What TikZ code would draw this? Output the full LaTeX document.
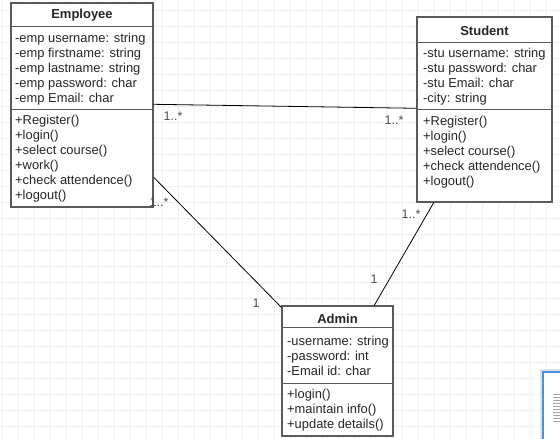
\documentclass[tikz,border=0pt]{standalone}
\usepackage{fontspec}
\setmainfont{Liberation Sans}
\usepackage{xcolor}
\definecolor{gridgray}{RGB}{240,240,240}
\definecolor{boxgray}{RGB}{90,90,90}
\definecolor{navblue}{RGB}{74,144,226}
\tikzset{
  classbox/.style={draw=boxgray, line width=1.4pt, fill=white, inner sep=0pt},
  sepline/.style={draw=boxgray, line width=1.4pt},
  cname/.style={font=\fontsize{13}{15}\selectfont\bfseries, text=black!85, anchor=base, inner sep=0pt},
  member/.style={font=\fontsize{12.9}{15}\selectfont, text=black!85, anchor=base west, inner sep=0pt},
  mult/.style={font=\fontsize{12.5}{14}\selectfont, text=black!70, inner sep=0pt},
  assoc/.style={draw=black, line width=0.8pt},
  gridline/.style={draw=gridgray, line width=0.8pt}
}

\begin{document}
\begin{tikzpicture}[x=1pt, y=-1pt]
\useasboundingbox[fill=white] (0,0) rectangle (560,439);
% background grid
\foreach \gx in {2,18,...,560} \draw[gridline] (\gx,0) -- (\gx,439);
\foreach \gy in {10,26,...,439} \draw[gridline] (0,\gy) -- (560,\gy);

% Employee
\node[classbox, minimum width=142pt, minimum height=204pt] (emp) at (82,105) {};
\draw[sepline] ([yshift=-24pt]emp.north west) -- ([yshift=-24pt]emp.north east);
\draw[sepline] ([yshift=-107pt]emp.north west) -- ([yshift=-107pt]emp.north east);
\node[cname] (empname) at (82,19) {Employee};
\foreach \m [count=\i] in {-emp username: string, -emp firstname: string, -emp lastname: string, -emp password: char, -emp Email: char}
  \node[member] (empa\i) at (15,27.5+15*\i) {\m};
\foreach \m [count=\i] in {+Register(), +login(), +select course(), +work(), +check attendence(), +logout()}
  \node[member] (empm\i) at (15,109+15*\i) {\m};

% Student
\node[classbox, minimum width=135pt, minimum height=185pt] (stu) at (484.5,109.5) {};
\draw[sepline] ([yshift=-26pt]stu.north west) -- ([yshift=-26pt]stu.north east);
\draw[sepline] ([yshift=-93pt]stu.north west) -- ([yshift=-93pt]stu.north east);
\node[cname] (stuname) at (484.5,35) {Student};
\foreach \m [count=\i] in {-stu username: string, -stu password: char, -stu Email: char, -city: string}
  \node[member] (stua\i) at (423,42+15*\i) {\m};
\foreach \m [count=\i] in {+Register(), +login(), +select course(), +check attendence(), +logout()}
  \node[member] (stum\i) at (423,110+15*\i) {\m};

% Admin
\node[classbox, minimum width=111pt, minimum height=130pt] (adm) at (337.5,371) {};
\draw[sepline] ([yshift=-22pt]adm.north west) -- ([yshift=-22pt]adm.north east);
\draw[sepline] ([yshift=-78pt]adm.north west) -- ([yshift=-78pt]adm.north east);
\node[cname] (admname) at (337.5,323) {Admin};
\foreach \m [count=\i] in {-username: string, -password: int, -Email id: char}
  \node[member] (adma\i) at (287,330+15*\i) {\m};
\foreach \m [count=\i] in {+login(), +maintain info(), +update details()}
  \node[member] (admm\i) at (287,383+15*\i) {\m};

% associations
\draw[assoc] ([yshift=-102pt]emp.north east) -- ([yshift=-92pt]stu.north west);
\draw[assoc] ([yshift=-175pt]emp.north east) -- ([yshift=-2pt]adm.north west);
\draw[assoc] ([xshift=-119pt]stu.south east) -- ([xshift=93pt]adm.north west);

% multiplicities
\node[mult] (m1) at (173,116) {1..*};
\node[mult] (m2) at (394,120) {1..*};
\node[mult] (m3) at (159,202) {1..*};
\node[mult] (m4) at (411,214) {1..*};
\node[mult] (m5) at (256,303) {1};
\node[mult] (m6) at (374,279) {1};

% outline view in the corner
\fill[black!12] (540,369) rectangle (565,445);
\draw[navblue, line width=1.2pt, fill=white] (543,372) rectangle (568,448);
\foreach \ly in {394,397,...,422} \draw[black!35, line width=0.8pt] (553,\ly) -- (561,\ly);
\end{tikzpicture}
\end{document}
